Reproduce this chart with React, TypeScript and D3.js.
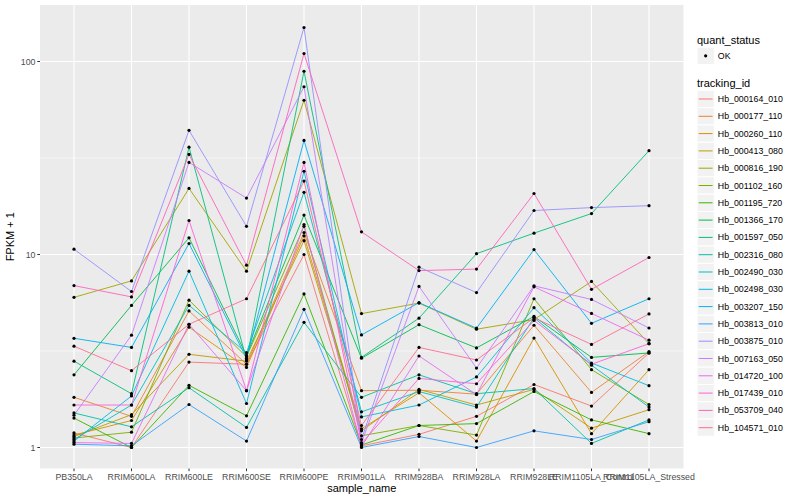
import * as d3 from "d3";

const samples = [
  "PB350LA", "RRIM600LA", "RRIM600LE", "RRIM600SE", "RRIM600PE", "RRIM901LA",
  "RRIM928BA", "RRIM928LA", "RRIM928LE", "RRIM1105LA_Control", "RRIM1105LA_Stressed",
];

const trackingIds = [
  "Hb_000164_010", "Hb_000177_110", "Hb_000260_110", "Hb_000413_080", "Hb_000816_190",
  "Hb_001102_160", "Hb_001195_720", "Hb_001366_170", "Hb_001597_050", "Hb_002316_080",
  "Hb_002490_030", "Hb_002498_030", "Hb_003207_150", "Hb_003813_010", "Hb_003875_010",
  "Hb_007163_050", "Hb_014720_100", "Hb_017439_010", "Hb_053709_040", "Hb_104571_010",
];

// FPKM + 1, one row per tracking_id, in sample order
const fpkm: number[][] = [
  [1.19, 1.0, 2.77, 2.7, 10, 1.02, 1.17, 1.45, 2.12, 1.64, 3.09],
  [1.82, 1.45, 5.1, 2.7, 13, 1.97, 1.98, 1.89, 4.3, 1.93, 3.14],
  [1.16, 1.38, 4.2, 2.6, 12.5, 1.25, 1.92, 1.08, 3.69, 1.18, 2.53],
  [1.14, 1.48, 3.04, 2.8, 11.8, 1.22, 2.0, 1.66, 2.0, 1.26, 1.57],
  [6.0, 7.3, 22, 8.2, 63, 4.94, 5.6, 4.1, 4.6, 7.25, 3.45],
  [1.12, 1.2, 5.8, 2.95, 14, 1.15, 1.3, 1.16, 5.9, 2.53, 1.67],
  [1.42, 1.0, 2.1, 1.46, 6.25, 1.03, 1.3, 1.33, 1.95, 1.39, 1.18],
  [2.38, 5.45, 12.2, 3.0, 16, 2.9, 4.33, 3.28, 4.78, 2.93, 3.09],
  [2.8, 1.9, 36, 2.85, 89, 2.93, 4.68, 10.1, 12.9, 16.3, 34.5],
  [1.51, 1.28, 2.04, 1.27, 4.45, 1.82, 2.38, 1.9, 2.02, 1.05, 1.39],
  [1.1, 1.66, 5.45, 3.1, 21, 1.53, 1.95, 1.62, 4.7, 2.67, 1.62],
  [1.08, 1.85, 8.2, 1.69, 27, 1.44, 1.66, 2.32, 5.3, 2.74, 2.09],
  [3.68, 3.3, 11.4, 2.9, 39, 3.83, 5.63, 4.15, 10.6, 4.4, 5.9],
  [1.04, 1.02, 1.67, 1.08, 5.2, 1.0, 1.14, 1.0, 1.22, 1.1, 1.36],
  [10.65, 6.43, 44, 14, 150, 1.1, 8.6, 6.35, 16.9, 17.5, 17.9],
  [1.47, 3.82, 30, 19.6, 74, 1.06, 6.83, 2.58, 6.88, 5.85, 4.16],
  [1.06, 1.05, 4.35, 1.97, 14.3, 1.01, 2.98, 1.88, 6.8, 4.95, 3.6],
  [1.66, 1.66, 15, 1.97, 30, 1.05, 2.28, 2.14, 4.55, 2.7, 3.45],
  [6.9, 6.03, 33, 8.8, 110, 13.1, 8.25, 8.4, 20.7, 6.6, 9.65],
  [3.35, 2.5, 4.35, 5.9, 24, 1.3, 3.3, 2.84, 4.7, 3.42, 4.92],
];

const majorTicks = [1, 10, 100];
const minorTicks = [Math.sqrt(10), Math.sqrt(1000)];

const colors = [
  "#F8766D", "#EA8331", "#D89000", "#C09B00", "#A3A500", "#7CAE00", "#39B600",
  "#00BB4E", "#00BF7D", "#00C1A3", "#00BFC4", "#00BAE0", "#00B0F6", "#35A2FF",
  "#9590FF", "#C77CFF", "#E76BF3", "#FA62DB", "#FF62BC", "#FF6C91",
];

const font = "'Liberation Sans', Arial, Helvetica, sans-serif";

export default function App() {
  const W = 800;
  const H = 500;
  const panel = { left: 40, right: 683.5, top: 5, bottom: 468.5 };

  const x = d3.scalePoint<string>().domain(samples).range([74, 649]);
  const y = d3.scaleLog().domain([1, 100]).range([447.5, 61.5]);

  const line = d3
    .line<number>()
    .x((_, i) => x(samples[i])!)
    .y((d) => y(d));

  const legX = 697;
  const keySize = 17.3;
  const step = 17.3;
  const firstCenter = 99;

  return (
    <svg
      width={W}
      height={H}
      style={{ position: "absolute", left: 0, top: 0, fontFamily: font }}
    >
      <rect width={W} height={H} fill="#fff" />
      {/* panel */}
      <rect
        x={panel.left}
        y={panel.top}
        width={panel.right - panel.left}
        height={panel.bottom - panel.top}
        fill="#EBEBEB"
      />
      {minorTicks.map((t) => (
        <line key={"mn" + t} x1={panel.left} x2={panel.right} y1={y(t)} y2={y(t)} stroke="#fff" strokeWidth={0.55} />
      ))}
      {majorTicks.map((t) => (
        <line key={"mj" + t} x1={panel.left} x2={panel.right} y1={y(t)} y2={y(t)} stroke="#fff" strokeWidth={1.1} />
      ))}
      {samples.map((s) => (
        <line key={"vx" + s} x1={x(s)} x2={x(s)} y1={panel.top} y2={panel.bottom} stroke="#fff" strokeWidth={1.1} />
      ))}

      {/* series */}
      {fpkm.map((vals, i) => (
        <path key={"ln" + i} d={line(vals)!} fill="none" stroke={colors[i]} strokeWidth={0.9} />
      ))}
      {fpkm.map((vals, i) =>
        vals.map((v, j) => (
          <circle key={"pt" + i + "-" + j} cx={x(samples[j])} cy={y(v)} r={1.6} fill="#000" />
        ))
      )}

      {/* y axis */}
      {majorTicks.map((t) => (
        <g key={"yt" + t}>
          <line x1={panel.left - 2.7} x2={panel.left} y1={y(t)} y2={y(t)} stroke="#333" strokeWidth={1} />
          <text x={panel.left - 4.5} y={y(t)} dy="0.35em" textAnchor="end" fontSize={8.8} fill="#4D4D4D">
            {t}
          </text>
        </g>
      ))}
      <text
        transform={`translate(14,${(panel.top + panel.bottom) / 2}) rotate(-90)`}
        textAnchor="middle"
        fontSize={11}
        fill="#000"
      >
        FPKM + 1
      </text>

      {/* x axis */}
      {samples.map((s) => (
        <g key={"xt" + s}>
          <line x1={x(s)} x2={x(s)} y1={panel.bottom} y2={panel.bottom + 2.7} stroke="#333" strokeWidth={1} />
          <text x={x(s)} y={panel.bottom + 11.5} textAnchor="middle" fontSize={8.8} fill="#4D4D4D">
            {s}
          </text>
        </g>
      ))}
      <text x={(panel.left + panel.right) / 2} y={492} textAnchor="middle" fontSize={11} fill="#000">
        sample_name
      </text>

      {/* legend: quant_status */}
      <text x={legX} y={44} fontSize={11} fill="#000">quant_status</text>
      <rect x={legX} y={47.2} width={keySize} height={keySize} fill="#F2F2F2" stroke="#fff" strokeWidth={1} />
      <circle cx={legX + keySize / 2} cy={47.2 + keySize / 2} r={1.6} fill="#000" />
      <text x={legX + keySize + 3.5} y={47.2 + keySize / 2} dy="0.35em" fontSize={8.8} fill="#000">OK</text>

      {/* legend: tracking_id */}
      <text x={legX} y={86.5} fontSize={11} fill="#000">tracking_id</text>
      {trackingIds.map((id, i) => {
        const cy = firstCenter + i * step;
        return (
          <g key={"lg" + id}>
            <rect x={legX} y={cy - keySize / 2} width={keySize} height={keySize} fill="#F2F2F2" stroke="#fff" strokeWidth={1} />
            <line x1={legX + 1.7} x2={legX + keySize - 1.7} y1={cy} y2={cy} stroke={colors[i]} strokeWidth={1} />
            <text x={legX + keySize + 3.5} y={cy} dy="0.35em" fontSize={8.8} fill="#000">
              {id}
            </text>
          </g>
        );
      })}
    </svg>
  );
}
